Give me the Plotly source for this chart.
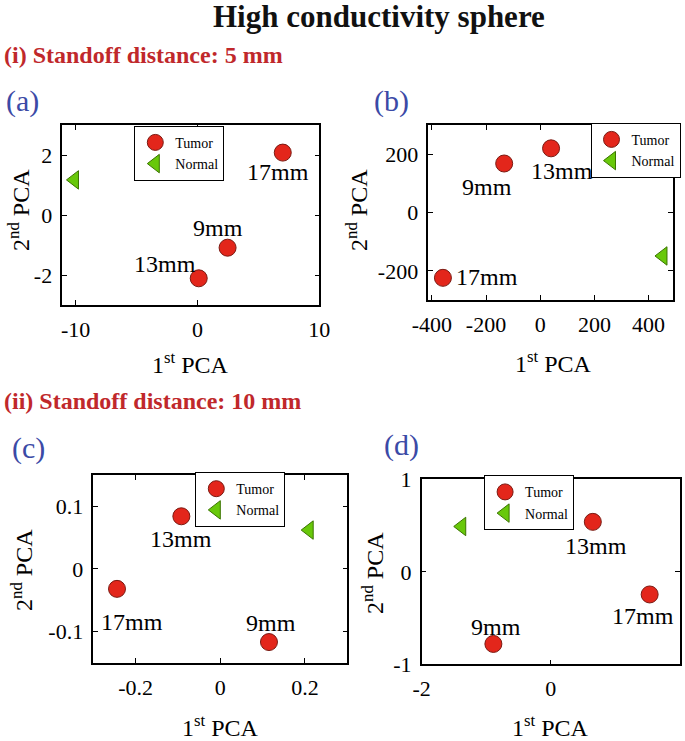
import plotly.graph_objects as go

# ---------------- data ----------------
labels = ["9mm", "13mm", "17mm"]
legend_names = ["Tumor", "Normal"]

# panel (a): standoff 5 mm
a_tumor_x = [2.47, 0.1, 7.0]
a_tumor_y = [-1.09, -2.11, 2.08]
a_normal_x = [-10.1]
a_normal_y = [1.17]

# panel (b): standoff 5 mm
b_tumor_x = [-133, 40, -359]
b_tumor_y = [168, 220, -224]
b_normal_x = [453]
b_normal_y = [-149]

# panel (c): standoff 10 mm
c_tumor_x = [0.115, -0.092, -0.244]
c_tumor_y = [-0.117, 0.084, -0.032]
c_normal_x = [0.21]
c_normal_y = [0.062]

# panel (d): standoff 10 mm
d_tumor_x = [-0.89, 0.65, 1.53]
d_tumor_y = [-0.78, 0.54, -0.245]
d_normal_x = [-1.38]
d_normal_y = [0.49]

# tick values / labels
a_xticks = [-10, 0, 10]; a_xtext = ["-10", "0", "10"]
a_yticks = [-2, 0, 2]; a_ytext = ["-2", "0", "2"]
b_xticks = [-400, -200, 0, 200, 400]; b_xtext = ["-400", "-200", "0", "200", "400"]
b_yticks = [-200, 0, 200]; b_ytext = ["-200", "0", "200"]
c_xticks = [-0.2, 0, 0.2]; c_xtext = ["-0.2", "0", "0.2"]
c_yticks = [-0.1, 0, 0.1]; c_ytext = ["-0.1", "0", "0.1"]
d_xticks = [-2, 0, 2]; d_xtext = ["-2", "0", "2"]
d_yticks = [-1, 0, 1]; d_ytext = ["-1", "0", "1"]

# ---------------- styling ----------------
W, H = 685, 741
FONT = "Liberation Serif"
RED = "#e3261b"
RED_EDGE = "#7a1a12"
GREEN = "#68c80a"
GREEN_EDGE = "#3b7400"
TITLE_RED = "#c0282b"
BLUE = "#3b4aa6"

def px_x(v):
    return v / W

def px_y(v):
    return 1 - v / H

panels = [
    dict(tx=a_tumor_x, ty=a_tumor_y, nx=a_normal_x, ny=a_normal_y,
         xdom=(62.3, 319.3), ydom=(125, 305), xr=[-11.1, 10], yr=[-3, 3],
         xt=(a_xticks, a_xtext), yt=(a_yticks, a_ytext),
         offs=[(-10, 20), (-34, 14), (-5, -19)],
         leg=(179.3, 153.3),
         xtitle=(190.8, 363), ytitle=(19, 210)),
    dict(tx=b_tumor_x, ty=b_tumor_y, nx=b_normal_x, ny=b_normal_y,
         xdom=(428.3, 673), ydom=(125, 300), xr=[-413, 490], yr=[-300, 300],
         xt=(b_xticks, b_xtext), yt=(b_yticks, b_ytext),
         offs=[(-17, -23), (11, -23), (44, 1)],
         leg=(635.5, 150.3),
         xtitle=(553, 362), ytitle=(357, 210)),
    dict(tx=c_tumor_x, ty=c_tumor_y, nx=c_normal_x, ny=c_normal_y,
         xdom=(93.3, 347.3), ydom=(475, 662.7), xr=[-0.3, 0.3], yr=[-0.15, 0.15],
         xt=(c_xticks, c_xtext), yt=(c_yticks, c_ytext),
         offs=[(2, 19), (0, -23), (15, -33)],
         leg=(240.3, 499.6),
         xtitle=(220, 726), ytitle=(22, 570)),
    dict(tx=d_tumor_x, ty=d_tumor_y, nx=d_normal_x, ny=d_normal_y,
         xdom=(421.7, 680), ydom=(479.3, 664.3), xr=[-2, 2], yr=[-1, 1],
         xt=(d_xticks, d_xtext), yt=(d_yticks, d_ytext),
         offs=[(3, 17), (3, -24), (-7, -22)],
         leg=(529.1, 502.8),
         xtitle=(550, 726), ytitle=(373, 573)),
]

fig = go.Figure()
layout = dict(
    width=W, height=H, margin=dict(l=0, r=0, t=0, b=0, autoexpand=False),
    paper_bgcolor="white", plot_bgcolor="white",
    font=dict(family=FONT, color="black"),
    showlegend=True,
)
annotations = []

for i, p in enumerate(panels):
    k = "" if i == 0 else str(i + 1)
    xa, ya = "x" + k, "y" + k
    leg = "legend" + k
    fig.add_trace(go.Scatter(
        x=p["tx"], y=p["ty"], mode="markers", name=legend_names[0],
        xaxis=xa, yaxis=ya, legend=leg,
        marker=dict(symbol="circle", size=17, color=RED,
                    line=dict(color=RED_EDGE, width=1)),
    ))
    fig.add_trace(go.Scatter(
        x=p["nx"], y=p["ny"], mode="markers", name=legend_names[1],
        xaxis=xa, yaxis=ya, legend=leg,
        marker=dict(symbol="triangle-left", size=16, color=GREEN,
                    line=dict(color=GREEN_EDGE, width=1)),
    ))
    axcommon = dict(showgrid=False, zeroline=False, showline=True,
                    linecolor="black", linewidth=1.5, mirror="ticks",
                    ticks="inside", ticklen=5, tickwidth=1, tickcolor="black",
                    tickfont=dict(family=FONT, size=22, color="black"),
                    tickmode="array", fixedrange=True, automargin=False)
    layout["xaxis" + k] = dict(
        axcommon, domain=[px_x(p["xdom"][0]), px_x(p["xdom"][1])],
        range=p["xr"], tickvals=p["xt"][0], ticktext=p["xt"][1],
        anchor=ya, ticklabelstandoff=4)
    layout["yaxis" + k] = dict(
        axcommon, domain=[px_y(p["ydom"][1]), px_y(p["ydom"][0])],
        range=p["yr"], tickvals=p["yt"][0], ticktext=p["yt"][1],
        anchor=xa, ticklabelstandoff=4)
    layout[leg] = dict(
        x=px_x(p["leg"][0]), y=px_y(p["leg"][1]), xanchor="center", yanchor="middle",
        xref="paper", yref="paper",
        bgcolor="white", bordercolor="black", borderwidth=1,
        font=dict(family=FONT, size=14, color="black"),
        itemwidth=30, tracegroupgap=0, traceorder="normal",
    )
    for j, lab in enumerate(labels):
        dx, dy = p["offs"][j]
        annotations.append(dict(
            x=p["tx"][j], y=p["ty"][j], xref=xa, yref=ya, text=lab,
            showarrow=False, xshift=dx, yshift=dy,
            font=dict(family=FONT, size=24, color="black")))
    annotations.append(dict(
        x=px_x(p["xtitle"][0]), y=px_y(p["xtitle"][1]), xref="paper", yref="paper",
        text="1<sup>st</sup> PCA", showarrow=False, xanchor="center", yanchor="middle",
        font=dict(family=FONT, size=24, color="black")))
    annotations.append(dict(
        x=px_x(p["ytitle"][0]), y=px_y(p["ytitle"][1]), xref="paper", yref="paper",
        text="2<sup>nd</sup> PCA", showarrow=False, xanchor="center", yanchor="middle",
        textangle=-90, font=dict(family=FONT, size=24, color="black")))

# headings
annotations += [
    dict(x=px_x(379), y=px_y(17), xref="paper", yref="paper", showarrow=False,
         text="<b>High conductivity sphere</b>", xanchor="center", yanchor="middle",
         font=dict(family=FONT, size=31, color="#111111")),
    dict(x=px_x(2), y=px_y(55), xref="paper", yref="paper", showarrow=False,
         text="<b>(i) Standoff distance: 5 mm</b>", xanchor="left", yanchor="middle",
         font=dict(family=FONT, size=24, color=TITLE_RED)),
    dict(x=px_x(2), y=px_y(401), xref="paper", yref="paper", showarrow=False,
         text="<b>(ii) Standoff distance: 10 mm</b>", xanchor="left", yanchor="middle",
         font=dict(family=FONT, size=24, color=TITLE_RED)),
    dict(x=px_x(4), y=px_y(101), xref="paper", yref="paper", showarrow=False,
         text="(a)", xanchor="left", yanchor="middle",
         font=dict(family=FONT, size=30, color=BLUE)),
    dict(x=px_x(372), y=px_y(101), xref="paper", yref="paper", showarrow=False,
         text="(b)", xanchor="left", yanchor="middle",
         font=dict(family=FONT, size=30, color=BLUE)),
    dict(x=px_x(10), y=px_y(448), xref="paper", yref="paper", showarrow=False,
         text="(c)", xanchor="left", yanchor="middle",
         font=dict(family=FONT, size=30, color=BLUE)),
    dict(x=px_x(382), y=px_y(445), xref="paper", yref="paper", showarrow=False,
         text="(d)", xanchor="left", yanchor="middle",
         font=dict(family=FONT, size=30, color=BLUE)),
]
layout["annotations"] = annotations
fig.update_layout(**layout)
fig.write_html(
    "out.html",
    config={"displayModeBar": False, "staticPlot": False},
    post_script="document.body.style.margin='0px';document.body.style.overflow='hidden';",
)
